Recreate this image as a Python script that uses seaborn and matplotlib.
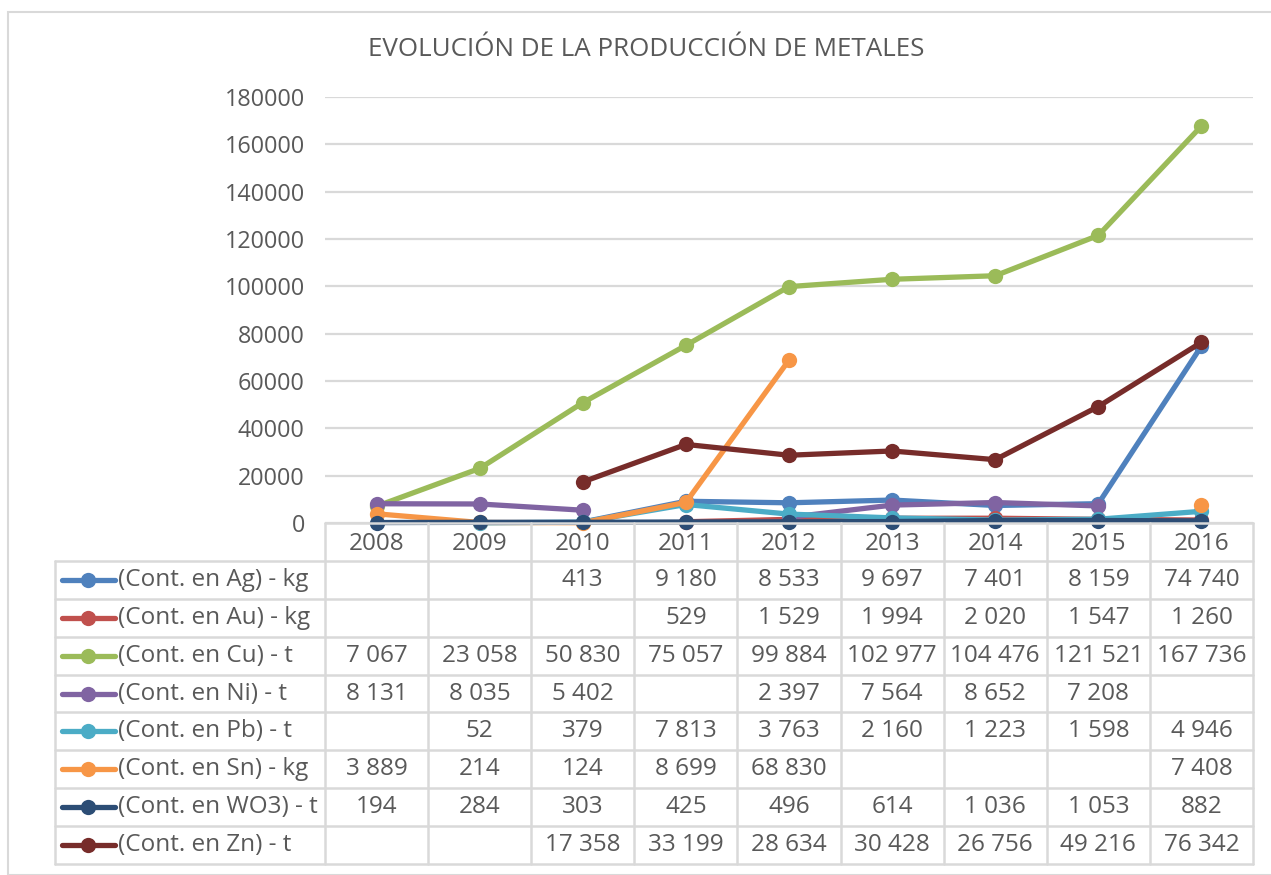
import matplotlib
matplotlib.use('Agg')
import numpy as np
import pandas as pd
import matplotlib.pyplot as plt
from matplotlib.lines import Line2D
from matplotlib.patches import Rectangle
import seaborn as sns

# === DONNÉES ===
years = ["2008", "2009", "2010", "2011", "2012", "2013", "2014", "2015", "2016"]
labels = ["(Cont. en Ag) - kg", "(Cont. en Au) - kg", "(Cont. en Cu) - t", "(Cont. en Ni) - t",
          "(Cont. en Pb) - t", "(Cont. en Sn) - kg", "(Cont. en WO3) - t", "(Cont. en Zn) - t"]
ag = [None, None, 413, 9180, 8533, 9697, 7401, 8159, 74740]
au = [None, None, None, 529, 1529, 1994, 2020, 1547, 1260]
cu = [7067, 23058, 50830, 75057, 99884, 102977, 104476, 121521, 167736]
ni = [8131, 8035, 5402, None, 2397, 7564, 8652, 7208, None]
pb = [None, 52, 379, 7813, 3763, 2160, 1223, 1598, 4946]
sn = [3889, 214, 124, 8699, 68830, None, None, None, 7408]
wo3 = [194, 284, 303, 425, 496, 614, 1036, 1053, 882]
zn = [None, None, 17358, 33199, 28634, 30428, 26756, 49216, 76342]
series = [ag, au, cu, ni, pb, sn, wo3, zn]
colors = ["#4F81BD", "#C0504D", "#9BBB59", "#8064A2", "#4BACC6", "#F79646", "#2C4D75", "#772C2A"]
title = "EVOLUCIÓN DE LA PRODUCCIÓN DE METALES"
yticks = list(range(0, 180001, 20000))

GRIS_TEXTE = "#595959"
GRIS_LIGNE = "#d9d9d9"
W, H = 1271, 875
FS_TAB = 17.5

sns.set_theme(style="white")
plt.rcParams['font.family'] = ['Open Sans', 'DejaVu Sans']

fig = plt.figure(figsize=(W / 100, H / 100), dpi=100)

# cadre extérieur
fig.patches.append(Rectangle((8 / W, 0), 1.0, 1 - 12 / H, transform=fig.transFigure,
                             fill=False, edgecolor=GRIS_LIGNE, linewidth=1.5))

# === GRAPHIQUE ===
x0, x1, ytop, y0 = 325, 1253, 97, 523
ax = fig.add_axes([x0 / W, 1 - y0 / H, (x1 - x0) / W, (y0 - ytop) / H])
ax.set_xlim(-0.5, len(years) - 0.5)
ax.set_ylim(0, 180000)
ax.set_yticks(yticks)
ax.set_yticklabels([str(v) for v in yticks], color=GRIS_TEXTE, fontsize=16.8)
ax.set_xticks([])
ax.tick_params(axis="y", length=0, pad=14.5)
for s in ax.spines.values():
    s.set_visible(False)
for v in yticks:
    ax.axhline(v, color=GRIS_LIGNE, linewidth=1.6, zorder=0)

for i, (vals, col) in enumerate(zip(series, colors)):
    df = pd.DataFrame({"x": np.arange(len(years)), "y": pd.array(vals, dtype="Float64")})
    df["y"] = df["y"].astype(float)
    # segments continus (les trous ne sont pas reliés)
    df["seg"] = df["y"].isna().cumsum()
    df = df.dropna()
    sns.lineplot(data=df, x="x", y="y", units="seg", estimator=None, ax=ax, color=col,
                 linewidth=3.8, marker="o", markersize=11, markeredgewidth=0,
                 clip_on=False, zorder=3 + i, legend=False)
ax.set_xlabel("")
ax.set_ylabel("")

fig.text(646 / W, 1 - 49 / H, title, ha="center", va="center", color=GRIS_TEXTE, fontsize=18.7)

# === TABLEAU ===
t_left, t_bottom = 55, 864
col_w = (x1 - x0) / len(years)
left_u = -0.5 - (x0 - t_left) / col_w
tax = fig.add_axes([t_left / W, 1 - t_bottom / H, (x1 - t_left) / W, (t_bottom - y0) / H])
tax.set_xlim(left_u, len(years) - 0.5)
nrows = len(labels) + 1
tax.set_ylim(nrows, 0)
tax.axis("off")

lw = 1.8
for r in range(nrows + 1):
    xs = -0.5 if r == 0 else left_u
    tax.plot([xs, len(years) - 0.5], [r, r], color=GRIS_LIGNE, linewidth=lw, clip_on=False)
for c in range(len(years) + 1):
    tax.plot([c - 0.5, c - 0.5], [0, nrows], color=GRIS_LIGNE, linewidth=lw, clip_on=False)
tax.plot([left_u, left_u], [1, nrows], color=GRIS_LIGNE, linewidth=lw, clip_on=False)

for c, yr in enumerate(years):
    tax.text(c, 0.56, yr, ha="center", va="center", color=GRIS_TEXTE, fontsize=FS_TAB)

px = 1 / col_w
for r, (lab, vals, col) in enumerate(zip(labels, series, colors), start=1):
    yc = r + 0.5
    tax.add_line(Line2D([left_u + 7 * px, left_u + 60 * px], [yc, yc], color=col, linewidth=3.8,
                        solid_capstyle="round"))
    tax.add_line(Line2D([left_u + 33 * px], [yc], color=col, marker="o", markersize=11,
                        markeredgewidth=0))
    tax.text(left_u + 63 * px, yc, lab, ha="left", va="center", color=GRIS_TEXTE, fontsize=FS_TAB)
    for c, v in enumerate(vals):
        if v is not None:
            tax.text(c, yc, f"{v:,.0f}".replace(",", " "), ha="center", va="center",
                     color=GRIS_TEXTE, fontsize=FS_TAB)

plt.savefig("out.png", dpi=100, facecolor="white")
